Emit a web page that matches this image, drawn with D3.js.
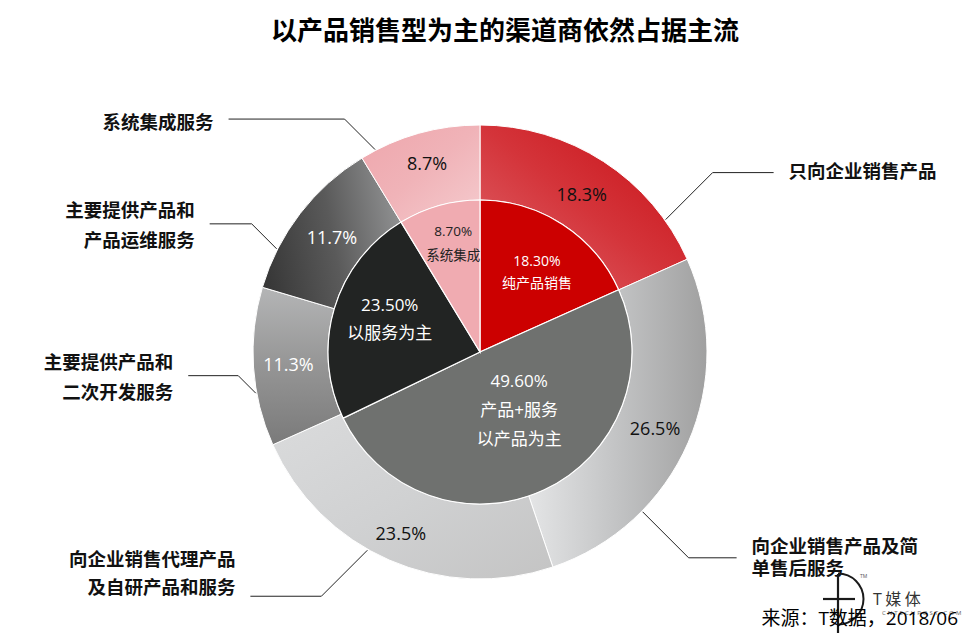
<!DOCTYPE html>
<html lang="zh">
  <head>
    <meta charset="utf-8">
    <script src="https://d3js.org/d3.v7.min.js"></script>
    <title>渠道商类型</title>
    <style>
      body { margin: 0; background: #fff; }
      text { font-family: "Open Sans", "Noto Sans CJK SC", sans-serif; }
    </style>
  </head>
  <body>
  <script type="text/javascript">

    // inner ring: broad types
    var innerNames = ["纯产品销售", "产品+服务|以产品为主", "以服务为主", "系统集成"];
    var innerValues = [18.3, 49.6, 23.5, 8.7];

    // outer ring: detailed types
    var outerNames = ["只向企业销售产品", "向企业销售产品及简|单售后服务", "向企业销售代理产品|及自研产品和服务",
                      "主要提供产品和|二次开发服务", "主要提供产品和|产品运维服务", "系统集成服务"];
    var outerValues = [18.3, 26.5, 23.5, 11.3, 11.7, 8.7];

    var titleText = "以产品销售型为主的渠道商依然占据主流";
    var sourceText = "来源：T数据，2018/06";

    var width = 973, height = 633;
    var cx = 480, cy = 352;
    var rInner = 152, rOuter = 227;

    var svg = d3.select("body").append("svg")
      .attr("width", width)
      .attr("height", height);

    var defs = svg.append("defs");

    // gradient for each outer slice (x1,y1,x2,y2 in bounding box units, stops)
    var outerGrad = [
      {v: [0, 1, 1, 0], c: ["#e0686e", "#d4343a", "#c70d13"]},
      {v: [0, 0.5, 1, 0.5], c: ["#e4e5e6", "#c2c3c4", "#a0a0a0"]},
      {v: [0, 0, 1, 1], c: ["#dadbdc", "#d0d1d2", "#c4c4c4"]},
      {v: [0, 0, 0, 1], c: ["#b4b5b6", "#959595", "#7a7a7a"]},
      {v: [0, 0.6, 1, 0.4], c: ["#383838", "#5a5a5a", "#909192"]},
      {v: [0, 0, 1, 1], c: ["#eea6ac", "#f0b3b8", "#f5cbce"]}
    ];
    var innerColors = ["#cc0000", "#6f716f", "#222423", "#f0abb1"];

    outerGrad.forEach(function(g, i) {
      var lg = defs.append("linearGradient")
        .attr("id", "og" + i)
        .attr("x1", g.v[0]).attr("y1", g.v[1])
        .attr("x2", g.v[2]).attr("y2", g.v[3]);
      g.c.forEach(function(col, j) {
        lg.append("stop").attr("offset", j / (g.c.length - 1)).attr("stop-color", col);
      });
    });

    var pie = d3.pie().sort(null).value(function(d) { return d; });
    var innerArcs = pie(innerValues);
    var outerArcs = pie(outerValues);

    var arcInner = d3.arc().innerRadius(0).outerRadius(rInner);
    var arcOuter = d3.arc().innerRadius(rInner).outerRadius(rOuter);

    var g = svg.append("g").attr("transform", "translate(" + cx + "," + cy + ")");

    g.selectAll("path.outer")
      .data(outerArcs)
      .enter().append("path")
        .attr("class", "outer")
        .attr("d", arcOuter)
        .attr("fill", function(d, i) { return "url(#og" + i + ")"; })
        .attr("stroke", "#fff")
        .attr("stroke-width", 1);

    g.selectAll("path.inner")
      .data(innerArcs)
      .enter().append("path")
        .attr("class", "inner")
        .attr("d", arcInner)
        .attr("fill", function(d, i) { return innerColors[i]; })
        .attr("stroke", "#fff")
        .attr("stroke-width", 1.2);

    function midAngle(d) { return (d.startAngle + d.endAngle) / 2; }
    function polar(a, r) { return [r * Math.sin(a), -r * Math.cos(a)]; }
    var rad = Math.PI / 180;

    // outer percentage labels
    var outerLabelR = [187, 191, 198, 192, 187, 196];
    var outerLabelCol = ["#111", "#111", "#111", "#fff", "#fff", "#111"];
    var fmt1 = d3.format(".1f"), fmt2 = d3.format(".2f");

    g.selectAll("text.opct")
      .data(outerArcs)
      .enter().append("text")
        .attr("class", "opct")
        .attr("x", function(d, i) { return polar(midAngle(d), outerLabelR[i])[0]; })
        .attr("y", function(d, i) { return polar(midAngle(d), outerLabelR[i])[1]; })
        .attr("dy", "0.35em")
        .attr("text-anchor", "middle")
        .attr("font-size", 18)
        .attr("fill", function(d, i) { return outerLabelCol[i]; })
        .text(function(d) { return fmt1(d.value) + "%"; });

    // inner labels: radius, angle nudge, font size, line gap, colour
    var innerLay = [
      {r: 98, n: 2.6, s: 14, gap: 22, c: "#fff"},
      {r: 70, n: -9, s: 17, gap: 29, c: "#fff"},
      {r: 96, n: 3.4, s: 17, gap: 28, c: "#fff"},
      {r: 112, n: 1.8, s: 13.5, gap: 24, c: "#222"}
    ];

    innerArcs.forEach(function(d, i) {
      var L = innerLay[i];
      var p = polar(midAngle(d) + L.n * rad, L.r);
      var lines = [fmt2(d.value) + "%"].concat(innerNames[i].split("|"));
      var y0 = p[1] - (lines.length - 1) * L.gap / 2;
      lines.forEach(function(t, k) {
        g.append("text")
          .attr("x", p[0])
          .attr("y", y0 + k * L.gap)
          .attr("dy", "0.35em")
          .attr("text-anchor", "middle")
          .attr("font-size", L.s)
          .attr("fill", L.c)
          .text(t);
      });
    });

    // leader lines and category labels: anchor angle, vertical direction, diagonal, horizontal, label offset, line gap
    var callLay = [
      {a: 54.5, up: 1, d: 47, h: 61, off: -1, gap: 0},
      {a: 134.5, up: -1, d: 46, h: 48, off: 0, gap: 22},
      {a: 209.6, up: -1, d: 46, h: 71, off: -23, gap: 28},
      {a: 259.6, up: 1, d: 17.5, h: 50, off: 2, gap: 30},
      {a: 296.9, up: 1, d: 25, h: 42, off: 2, gap: 30},
      {a: 332.6, up: 1, d: 30.5, h: 116, off: 3, gap: 0}
    ];

    outerArcs.forEach(function(d, i) {
      var L = callLay[i];
      var p0 = polar(L.a * rad, rOuter + 1);
      var sx = p0[0] >= 0 ? 1 : -1, sy = -L.up;
      var p1 = [p0[0] + sx * L.d, p0[1] + sy * L.d];
      var p2 = [p1[0] + sx * L.h, p1[1]];
      g.append("path")
        .attr("d", d3.line()([p0, p1, p2]))
        .attr("fill", "none")
        .attr("stroke", "#222")
        .attr("stroke-width", 1);

      var lines = outerNames[i].split("|");
      var tx = p2[0] + sx * 15;
      var y0 = p2[1] + L.off - (lines.length - 1) * L.gap / 2;
      lines.forEach(function(t, k) {
        g.append("text")
          .attr("x", tx)
          .attr("y", y0 + k * L.gap)
          .attr("dy", "0.35em")
          .attr("text-anchor", sx > 0 ? "start" : "end")
          .attr("font-family", "Noto Sans CJK SC")
          .attr("font-weight", 700)
          .attr("font-size", 18.5)
          .attr("fill", "#111")
          .text(t);
      });
    });

    // title
    svg.append("text")
      .attr("x", 505)
      .attr("y", 31)
      .attr("dy", "0.35em")
      .attr("text-anchor", "middle")
      .attr("font-family", "Noto Sans CJK SC")
      .attr("font-weight", 700)
      .attr("font-size", 26)
      .attr("fill", "#000")
      .text(titleText);

    // logo
    var logo = svg.append("g").attr("transform", "translate(838,599)");
    logo.append("path")
      .attr("d", d3.arc().innerRadius(24.5).outerRadius(26.5).startAngle(0).endAngle(Math.PI)())
      .attr("fill", "#1a1a1a");
    logo.append("line").attr("x1", -15).attr("x2", 17).attr("y1", 0).attr("y2", 0)
      .attr("stroke", "#1a1a1a").attr("stroke-width", 2.2);
    logo.append("line").attr("x1", 0).attr("x2", 0).attr("y1", -25).attr("y2", 34)
      .attr("stroke", "#1a1a1a").attr("stroke-width", 2.2);
    logo.append("text").attr("x", 22).attr("y", -21).attr("font-size", 5).attr("fill", "#555").text("TM");
    logo.append("text").attr("x", 35).attr("y", 0).attr("dy", "0.35em")
      .attr("font-family", "Noto Sans CJK SC").attr("font-size", 16).attr("letter-spacing", 3.5)
      .attr("fill", "#333").text("T媒体");
    logo.append("text").attr("x", 44).attr("y", 16).attr("font-size", 6).attr("fill", "#666")
      .attr("letter-spacing", 2).text("CNTECHPOST.COM");

    // source
    svg.append("text")
      .attr("x", 958)
      .attr("y", 618)
      .attr("dy", "0.35em")
      .attr("text-anchor", "end")
      .attr("font-size", 19)
      .attr("fill", "#000")
      .text(sourceText);

  </script>
  </body>
</html>
